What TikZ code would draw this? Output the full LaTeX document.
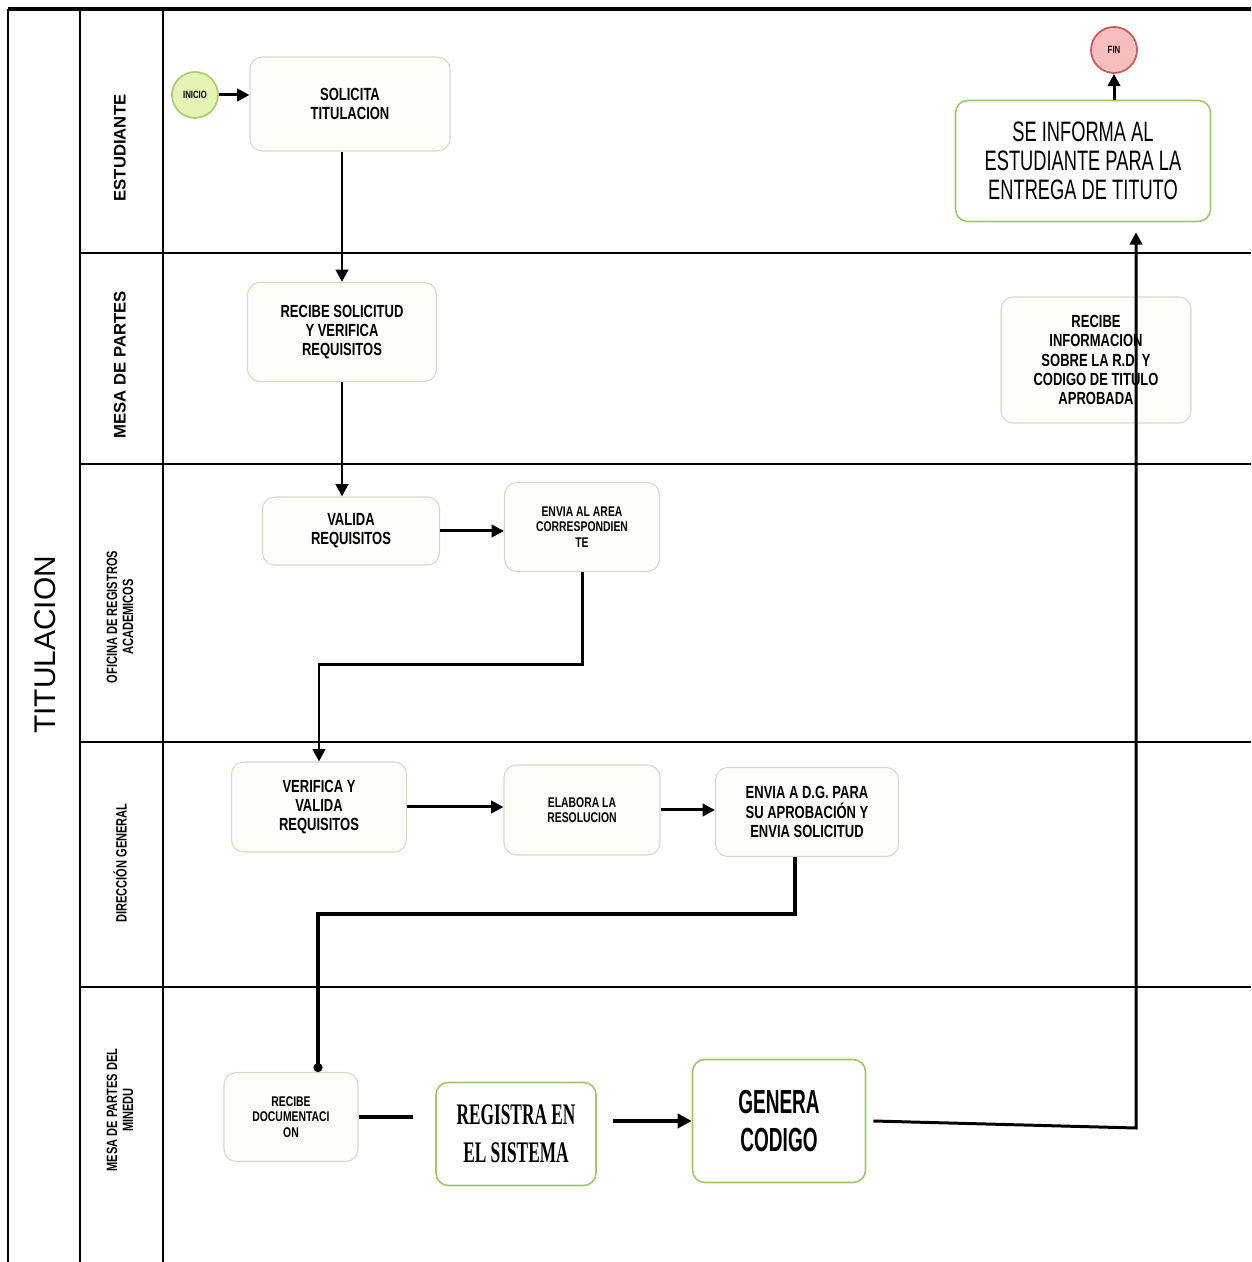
\documentclass[tikz,border=0pt]{standalone}
\usepackage{fontspec}
\setmainfont{Liberation Sans}
\newfontfamily\boxfont[FakeStretch=0.74]{Liberation Sans}
\newfontfamily\narrowfont[FakeStretch=0.65]{Liberation Sans}
\newfontfamily\codefont[FakeStretch=0.57]{Liberation Sans}
\newfontfamily\regfont[FakeStretch=0.58]{Liberation Serif}
\usepackage{xcolor}
\usetikzlibrary{arrows.meta,positioning}

\definecolor{boxline}{HTML}{D5D9C8}
\definecolor{boxfill}{HTML}{FDFDF9}
\definecolor{boxgreen}{HTML}{9DC86A}
\definecolor{startfill}{HTML}{E4F4B4}
\definecolor{startline}{HTML}{A8CF70}
\definecolor{endfill}{HTML}{F8BEBE}
\definecolor{endline}{HTML}{C85A5A}

\tikzset{
	actbox/.style={draw=boxline, fill=boxfill, line width=0.6pt, rounded corners=7pt, align=center, inner sep=2pt, font=\boxfont\bfseries\fontsize{10}{11}\selectfont},
	smallbox/.style={actbox, font=\boxfont\bfseries\fontsize{8}{8.8}\selectfont},
	greenbox/.style={actbox, draw=boxgreen, fill=white, line width=0.9pt},
	event/.style={circle, minimum size=0.92cm, inner sep=0pt, line width=1pt, font=\boxfont\bfseries\fontsize{6}{6}\selectfont},
	flow/.style={-{Triangle[length=7pt,width=7pt]}, line width=1.7pt},
	thickflow/.style={-{Triangle[length=8pt,width=8pt]}, line width=2.6pt},
	lanelabel/.style={rotate=90, align=center, font=\bfseries\fontsize{9.5}{10.5}\selectfont},
	smalllane/.style={lanelabel, font=\boxfont\bfseries\fontsize{8.5}{9}\selectfont},
	frame/.style={line width=1pt},
}

\begin{document}
\begin{tikzpicture}
		\useasboundingbox (0,0) rectangle (25.02,25.24);

		% pool and lanes
		\draw[line width=1.8pt] (0.16,25.06) -- (25.02,25.06);
		\draw[frame] (0.16,25.06) -- (0.16,0);
		\draw[frame] (1.6,25.06) -- (1.6,0);
		\draw[frame] (3.26,25.06) -- (3.26,0);
		\foreach \y in {20.18,15.96,10.4,5.5}
			\draw[frame] (1.6,\y) -- (25.02,\y);

		\node[rotate=90, font=\fontsize{17}{20}\selectfont] (pool) at (0.9,12.34) {TITULACION};
		\node[lanelabel] (laneest) at (2.4,22.28) {ESTUDIANTE};
		\node[lanelabel] (lanemesa) at (2.4,17.94) {MESA DE PARTES};
		\node[smalllane] (laneofi) at (2.4,12.9) {OFICINA DE REGISTROS\\ACADEMICOS};
		\node[smalllane] (lanedir) at (2.4,7.98) {DIRECCIÓN GENERAL};
		\node[smalllane] (lanemin) at (2.4,3.04) {MESA DE PARTES DEL\\MINEDU};

		% events
		\node[event, draw=startline, fill=startfill] (inicio) at (3.9,23.34) {INICIO};
		\node[event, draw=endline, fill=endfill] (fin) at (22.28,24.24) {FIN};

		% activities
		\node[actbox, minimum width=4cm, minimum height=1.88cm] (solicita) at (7.0,23.16) {SOLICITA\\TITULACION};
		\node[actbox, minimum width=3.78cm, minimum height=1.98cm] (recibe) at (6.84,18.6) {RECIBE SOLICITUD\\Y VERIFICA\\REQUISITOS};
		\node[actbox, minimum width=3.54cm, minimum height=1.36cm] (valida) at (7.02,14.62) {VALIDA\\REQUISITOS};
		\node[smallbox, minimum width=3.1cm, minimum height=1.78cm] (enviaarea) at (11.64,14.7) {ENVIA AL AREA\\CORRESPONDIEN\\TE};
		\node[actbox, minimum width=3.5cm, minimum height=1.8cm] (verifica) at (6.38,9.1) {VERIFICA Y\\VALIDA\\REQUISITOS};
		\node[smallbox, minimum width=3.12cm, minimum height=1.8cm] (elabora) at (11.64,9.04) {ELABORA LA\\RESOLUCION};
		\node[actbox, minimum width=3.66cm, minimum height=1.78cm] (enviadg) at (16.14,9.0) {ENVIA A D.G. PARA\\SU APROBACIÓN Y\\ENVIA SOLICITUD};
		\node[smallbox, minimum width=2.68cm, minimum height=1.78cm] (recibedoc) at (5.82,2.9) {RECIBE\\DOCUMENTACI\\ON};
		\node[greenbox, minimum width=3.2cm, minimum height=2.06cm, font=\regfont\bfseries\fontsize{17}{21.5}\selectfont] (registra) at (10.32,2.56) {REGISTRA EN\\EL SISTEMA};
		\node[greenbox, minimum width=3.46cm, minimum height=2.46cm, font=\codefont\bfseries\fontsize{19}{21.5}\selectfont] (genera) at (15.58,2.82) {GENERA\\CODIGO};
		\node[actbox, minimum width=3.8cm, minimum height=2.52cm] (recibeinfo) at (21.92,18.04) {RECIBE\\INFORMACION\\SOBRE LA R.D. Y\\CODIGO DE TITULO\\APROBADA};
		\node[greenbox, minimum width=5.1cm, minimum height=2.42cm, font=\narrowfont\fontsize{16}{16.5}\selectfont] (seinforma) at (21.66,22.02) {SE INFORMA AL\\ESTUDIANTE PARA LA\\ENTREGA DE TITUTO};

		% sequence flows
		\draw[flow] (inicio) -- (inicio -| solicita.west);
		\draw[flow] (recibe.north |- solicita.south) -- (recibe.north);
		\draw[flow] (recibe.south) -- (recibe.south |- valida.north);
		\draw[flow] (valida.east) -- (valida.east -| enviaarea.west);
		\draw[flow] (enviaarea.south) -- ++(0,-1.84) -| (verifica.north);
		\draw[flow] (verifica.east) -- (verifica.east -| elabora.west);
		\draw[flow] (elabora.east) -- (elabora.east -| enviadg.west);

		\coordinate (dgbend) at (15.9,6.96);
		\coordinate (docdrop) at (6.36,6.96);
		\draw[line width=2.6pt, -{Circle[length=5pt]}] (dgbend |- enviadg.south) -- (dgbend) -- (docdrop) -- (docdrop |- recibedoc.north);

		\coordinate (docend) at (8.26,2.9);
		\draw[line width=2.6pt] (recibedoc.east) -- (docend);
		\draw[thickflow, shorten <=0.32cm] (registra.east |- genera.west) -- (genera.west);

		\coordinate (upturn) at (22.72,2.68);
		\draw[flow, shorten >=0.2cm] (genera.east) ++(0.14,0) -- (upturn) -- (upturn |- seinforma.south);
		\draw[flow] (fin.south |- seinforma.north) -- (fin.south);
\end{tikzpicture}
\end{document}
